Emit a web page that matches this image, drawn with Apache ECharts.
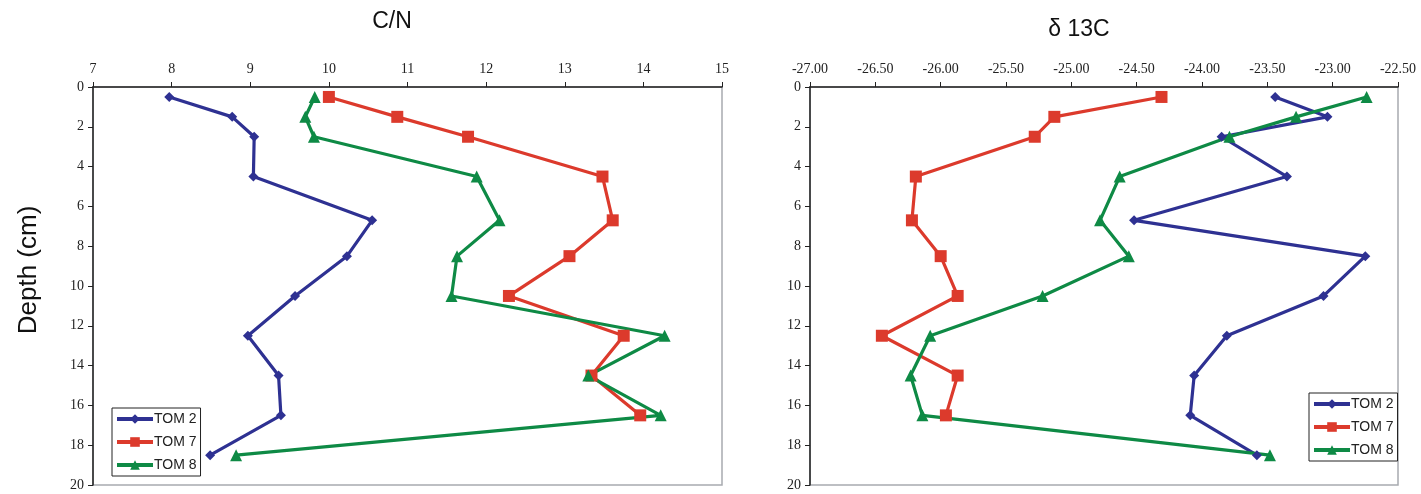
<!DOCTYPE html>
<html>
<head>
<meta charset="utf-8">
<script src="https://cdn.jsdelivr.net/npm/echarts@6/dist/echarts.min.js"></script>
<style>
html,body{margin:0;padding:0;background:#fff;}
#chart{width:1421px;height:494px;}
</style>
</head>
<body>
<div id="chart"></div>
<script>
// ---- data ----
const depths = [0.5, 1.5, 2.5, 4.5, 6.7, 8.5, 10.5, 12.5, 14.5, 16.5, 18.5];
const seriesNames = ['TOM 2', 'TOM 7', 'TOM 8'];
const cnTom2 = [7.97, 8.77, 9.05, 9.04, 10.55, 10.23, 9.57, 8.97, 9.36, 9.39, 8.49];
const cnTom7 = [10.0, 10.87, 11.77, 13.48, 13.61, 13.06, 12.29, 13.75, 13.34, 13.96, null];
const cnTom8 = [9.82, 9.70, 9.81, 11.88, 12.17, 11.63, 11.56, 14.27, 13.30, 14.22, 8.82];
const d13Tom2 = [-23.44, -23.04, -23.85, -23.35, -24.52, -22.75, -23.07, -23.81, -24.06, -24.09, -23.58];
const d13Tom7 = [-24.31, -25.13, -25.28, -26.19, -26.22, -26.00, -25.87, -26.45, -25.87, -25.96, null];
const d13Tom8 = [-22.74, -23.28, -23.79, -24.63, -24.78, -24.56, -25.22, -26.08, -26.23, -26.14, -23.48];
const cnTicks = [7, 8, 9, 10, 11, 12, 13, 14, 15];
const d13Ticks = [-27.0, -26.5, -26.0, -25.5, -25.0, -24.5, -24.0, -23.5, -23.0, -22.5];
const depthTicks = [0, 2, 4, 6, 8, 10, 12, 14, 16, 18, 20];

// ---- styles ----
const colors = ['#2e3192', '#dc3a2c', '#0e8a45'];
const symbols = ['diamond', 'rect', 'triangle'];
const symbolSizes = [10, 12, 12];
const tickFont = {fontFamily: 'Liberation Serif', fontSize: 14, color: '#222'};

function pairs(vals) {
  const out = [];
  vals.forEach((v, i) => { if (v !== null) out.push([v, depths[i]]); });
  return out;
}

function mkSeries(vals, idx, axisIdx) {
  return {
    name: seriesNames[idx],
    type: 'line',
    xAxisIndex: axisIdx,
    yAxisIndex: axisIdx,
    data: pairs(vals),
    symbol: symbols[idx],
    symbolSize: symbolSizes[idx],
    showSymbol: true,
    animation: false,
    lineStyle: {color: colors[idx], width: 3.2},
    itemStyle: {color: colors[idx]},
    emphasis: {disabled: true}
  };
}

function xAx(gi, ticks, fmt) {
  return {
    gridIndex: gi, type: 'value', position: 'top',
    min: ticks[0], max: ticks[ticks.length - 1],
    interval: ticks[1] - ticks[0],
    axisLine: {show: true, onZero: false, lineStyle: {color: '#222', width: 1.5}},
    axisTick: {show: true, inside: false, length: 5, lineStyle: {color: '#222'}},
    axisLabel: Object.assign({margin: 11, formatter: fmt}, tickFont),
    splitLine: {show: false}
  };
}
function yAx(gi) {
  return {
    gridIndex: gi, type: 'value', inverse: true,
    min: depthTicks[0], max: depthTicks[depthTicks.length - 1],
    interval: depthTicks[1] - depthTicks[0],
    axisLine: {show: true, onZero: false, lineStyle: {color: '#222', width: 1.5}},
    axisTick: {show: true, inside: false, length: 5, lineStyle: {color: '#222'}},
    axisLabel: Object.assign({margin: 9}, tickFont),
    splitLine: {show: false}
  };
}

function legendAt(left, top) {
  return {
    left: left, top: top, orient: 'vertical',
    data: seriesNames,
    itemWidth: 36, itemHeight: 12, itemGap: 9,
    padding: [4, 4, 4, 3],
    borderColor: '#222', borderWidth: 1,
    lineStyle: {width: 4},
    textStyle: {fontFamily: 'Liberation Sans', fontSize: 14, color: '#222', padding: [0, 0, 0, -4]},
    selectedMode: false
  };
}

const chart = echarts.init(document.getElementById('chart'), null, {renderer: 'canvas'});
chart.setOption({
  animation: false,
  backgroundColor: '#fff',
  grid: [
    {left: 93, right: 1421 - 722, top: 87, bottom: 9, show: true, borderColor: '#a8aab0', borderWidth: 1.5},
    {left: 810, right: 1421 - 1398, top: 87, bottom: 9, show: true, borderColor: '#a8aab0', borderWidth: 1.5}
  ],
  xAxis: [
    xAx(0, cnTicks, v => String(v)),
    xAx(1, d13Ticks, v => v.toFixed(2))
  ],
  yAxis: [yAx(0), yAx(1)],
  legend: [legendAt(112, 408), legendAt(1309, 393)],
  graphic: [
    {type: 'text', x: 392, y: 22, style: {text: 'C/N', font: '23px "Liberation Sans"', fill: '#111', align: 'center', verticalAlign: 'middle'}},
    {type: 'text', x: 1079, y: 30, style: {text: 'δ 13C', font: '23px "Liberation Sans"', fill: '#111', align: 'center', verticalAlign: 'middle'}},
    {type: 'text', x: 29, y: 270, rotation: Math.PI / 2,
     style: {text: 'Depth (cm)', font: '26px "Liberation Sans"', fill: '#111', align: 'center', verticalAlign: 'middle'}}
  ],
  series: [
    mkSeries(cnTom2, 0, 0), mkSeries(cnTom7, 1, 0), mkSeries(cnTom8, 2, 0),
    mkSeries(d13Tom2, 0, 1), mkSeries(d13Tom7, 1, 1), mkSeries(d13Tom8, 2, 1)
  ]
});
</script>
</body>
</html>
